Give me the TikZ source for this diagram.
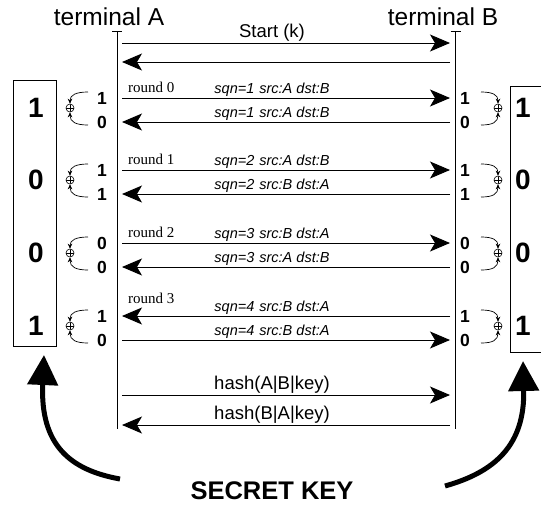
\documentclass[tikz,border=0pt]{standalone}
\usepackage{fontspec}
\setmainfont{Liberation Sans}
\newfontfamily\rmserif{Liberation Serif}
\usetikzlibrary{arrows.meta}
\begin{document}
\begin{tikzpicture}[x=1pt,y=-1pt,
  life/.style={line width=0.8pt},
  msg/.style={line width=0.9pt,-{Stealth[length=20pt,width=17pt,inset=5pt]}},
  plain/.style={line width=0.9pt},
  term/.style={font=\fontsize{24.5}{28}\selectfont,anchor=base,inner sep=0pt},
  big/.style={font=\fontsize{18.5}{22}\selectfont,anchor=base,inner sep=0pt},
  sq/.style={font=\fontsize{14.5}{16}\selectfont\itshape,anchor=base,inner sep=0pt},
  rnd/.style={font=\fontsize{15}{16}\selectfont\rmserif,anchor=base west,inner sep=0pt},
  sd/.style={font=\fontsize{17.5}{18}\selectfont\bfseries,inner sep=0pt},
  bd/.style={font=\fontsize{28}{32}\selectfont\bfseries,inner sep=0pt},
  xor/.style={circle,draw,line width=0.6pt,minimum size=8pt,inner sep=0pt,
    path picture={\draw[line width=0.6pt] (path picture bounding box.north)--(path picture bounding box.south)
      (path picture bounding box.west)--(path picture bounding box.east);}},
  xarr/.style={line width=0.7pt,-{Stealth[length=5pt,width=4.5pt]}},
  keybox/.style={draw,line width=0.8pt,minimum width=43pt,minimum height=266pt,anchor=north west,inner sep=0pt},
  keyarr/.style={line width=5pt,-{Triangle[length=30pt,width=30pt]}}]
\useasboundingbox (0,0) rectangle (541,504);

% terminals and lifelines
\node[term] (tA) at (109,25) {terminal A};
\node[term] (tB) at (443,25) {terminal B};
\coordinate (Atop) at (117,31); \coordinate (Abot) at (117,429);
\coordinate (Btop) at (455.5,31); \coordinate (Bbot) at (455.5,429);
\draw[life] (Atop) -- (Abot);
\draw[life] (Btop) -- (Bbot);
\draw[life] ([xshift=-5pt]Atop) -- ([xshift=5pt]Atop);
\draw[life] ([xshift=-5pt]Btop) -- ([xshift=5pt]Btop);

% message end points
\foreach \n/\y in {s1/43,s2/62,a0/98,b0/122,a1/170,b1/194,a2/243,b2/267,a3/316,b3/340,h1/395,h2/425}{
  \coordinate (L\n) at (122,\y);
  \coordinate (R\n) at (450,\y);
}

% start
\draw[msg] (Ls1) -- (Rs1);
\draw[msg] (Rs2) -- (Ls2);
\node[big] (tstart) at (272,37) {Start (k)};

% round 0
\node[rnd] (r0) at (128,92) {round 0};
\draw[msg] (La0) -- (Ra0);
\node[sq] (q0a) at (272,93) {sqn=1\hspace{5pt}src:A dst:B};
\draw[msg] (Rb0) -- (Lb0);
\node[sq] (q0b) at (272,117) {sqn=1\hspace{5pt}src:A dst:B};

% round 1
\node[rnd] (r1) at (128,164) {round 1};
\draw[msg] (La1) -- (Ra1);
\node[sq] (q1a) at (272,165) {sqn=2\hspace{5pt}src:A dst:B};
\draw[msg] (Rb1) -- (Lb1);
\node[sq] (q1b) at (272,189) {sqn=2\hspace{5pt}src:B dst:A};

% round 2
\node[rnd] (r2) at (128,237) {round 2};
\draw[msg] (La2) -- (Ra2);
\node[sq] (q2a) at (272,238) {sqn=3\hspace{5pt}src:B dst:A};
\draw[msg] (Rb2) -- (Lb2);
\node[sq] (q2b) at (272,262) {sqn=3\hspace{5pt}src:A dst:B};

% round 3
\node[rnd] (r3) at (128,303) {round 3};
\draw[msg] (Ra3) -- (La3);
\node[sq] (q3a) at (272,311) {sqn=4\hspace{5pt}src:B dst:A};
\draw[msg] (Lb3) -- (Rb3);
\node[sq] (q3b) at (272,335) {sqn=4\hspace{5pt}src:B dst:A};

% hash
\draw[msg] (Lh1) -- (Rh1);
\node[big] (hA) at (272,389) {hash(A|B|key)};
\draw[msg] (Rh2) -- (Lh2);
\node[big] (hB) at (272,419) {hash(B|A|key)};

% key boxes
\node[keybox] (boxA) at (13,80) {};
\node[keybox] (boxB) at (510,86) {};

% bits and xor
\foreach \i/\ya/\yb/\da/\db/\bg in {0/98/122/1/0/1, 1/170/194/1/1/0, 2/243/267/0/0/0, 3/316/340/1/0/1}{
  \pgfmathsetmacro\ym{(\ya+\yb)/2-2}
  \node[sd] (la\i) at (102,\ya) {\da};
  \node[sd] (lb\i) at (102,\yb) {\db};
  \node[sd] (ra\i) at (465,\ya) {\da};
  \node[sd] (rb\i) at (465,\yb) {\db};
  \node[xor] (lx\i) at (70,\ym) {};
  \node[xor] (rx\i) at (498,\ym) {};
  \coordinate (lau\i) at (88,\ya-6);
  \coordinate (lbu\i) at (88,\yb+3);
  \coordinate (rau\i) at (481,\ya-6);
  \coordinate (rbu\i) at (481,\yb+3);
  \draw[xarr] (lau\i) .. controls (76,\ya-6) and (70,\ya-3) .. (lx\i.north);
  \draw[xarr] (lbu\i) .. controls (76,\yb+3) and (70,\yb) .. (lx\i.south);
  \draw[xarr] (rau\i) .. controls (493,\ya-6) and (498,\ya-3) .. (rx\i.north);
  \draw[xarr] (rbu\i) .. controls (493,\yb+3) and (498,\yb) .. (rx\i.south);
  \node[bd] (ba\i) at (36,\ym) {\bg};
  \node[bd] (bb\i) at (523,\ym) {\bg};
}

% secret key
\node[font=\fontsize{25.5}{30}\selectfont\bfseries,anchor=base,inner sep=0pt] (key) at (272,499) {SECRET KEY};
\coordinate (kAt) at (120,479);
\coordinate (kBt) at (445,486);
\coordinate (kAh) at (44,355);
\coordinate (kBh) at (523,361);
\draw[keyarr] (kAt) .. controls (70,470) and (40,445) .. (kAh);
\draw[keyarr] (kBt) .. controls (495,472) and (525,445) .. (kBh);
\end{tikzpicture}
\end{document}
